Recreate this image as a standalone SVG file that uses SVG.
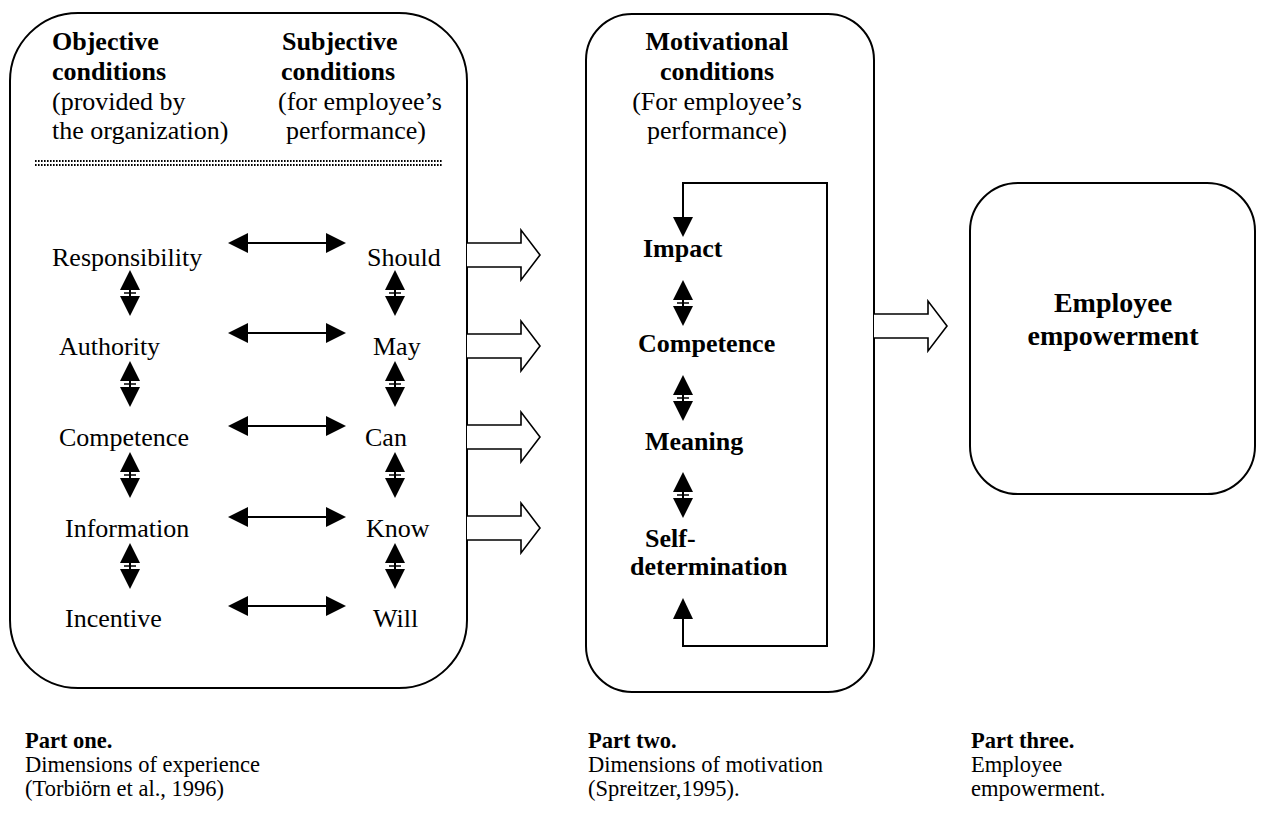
<svg xmlns="http://www.w3.org/2000/svg" xmlns:xlink="http://www.w3.org/1999/xlink" width="1261" height="821" viewBox="0 0 1261 821">
<style>
.t{font-family:"Liberation Serif","Times New Roman",serif;font-size:26px;fill:#000}
.b{font-weight:bold}
.m{text-anchor:middle}
.f{font-family:"Liberation Serif","Times New Roman",serif;font-size:22.5px;fill:#000}
.box{fill:#fff;stroke:#000;stroke-width:2}
.ln{fill:none;stroke:#000;stroke-width:2}
.hol{fill:#fff;stroke:#000;stroke-width:1.6;stroke-linejoin:miter}
.dots{stroke:#000;stroke-width:2;stroke-dasharray:1.6 1.4}
</style>
<defs>
<g id="hdbl">
<line x1="18" y1="0" x2="100" y2="0" stroke="#000" stroke-width="2"/>
<polygon points="0,0 20,-10 20,10" fill="#000"/>
<polygon points="118,0 98,-10 98,10" fill="#000"/>
</g>
<g id="vdbl">
<line x1="0" y1="18" x2="0" y2="28" stroke="#000" stroke-width="2"/>
<polygon points="0,0 -10,20 10,20" fill="#000"/>
<line x1="-6" y1="23" x2="6" y2="23" stroke="#000" stroke-width="1.5"/>
<polygon points="-10,26 10,26 0,46" fill="#000"/>
</g>
<path id="hollow" d="M0,-12 H54 V-25 L73,0 L54,25 V12 H0"/>
</defs>

<g id="part-one">
<rect class="box" x="10" y="13" width="457" height="675" rx="68" ry="68"/>
<text class="t b" x="52" y="50">Objective</text>
<text class="t b" x="52" y="80">conditions</text>
<text class="t" x="52" y="110">(provided by</text>
<text class="t" x="52" y="139">the organization)</text>
<text class="t b" x="282" y="50">Subjective</text>
<text class="t b" x="281" y="80">conditions</text>
<text class="t" x="278" y="110">(for employee’s</text>
<text class="t" x="286" y="139">performance)</text>
<line class="dots" x1="35" y1="161" x2="442" y2="161"/>
<line class="dots" x1="35" y1="165" x2="442" y2="165"/>
<text class="t" x="52" y="266">Responsibility</text>
<text class="t" x="59" y="355">Authority</text>
<text class="t" x="59" y="446">Competence</text>
<text class="t" x="65" y="537">Information</text>
<text class="t" x="65" y="627">Incentive</text>
<text class="t" x="367" y="266">Should</text>
<text class="t" x="373" y="355">May</text>
<text class="t" x="365" y="446">Can</text>
<text class="t" x="366" y="537">Know</text>
<text class="t" x="373" y="627">Will</text>
</g>

<g id="part-two">
<rect class="box" x="586" y="14" width="288" height="678" rx="46" ry="46"/>
<text class="t b m" x="717" y="50">Motivational</text>
<text class="t b m" x="717" y="80">conditions</text>
<text class="t m" x="717" y="110">(For employee’s</text>
<text class="t m" x="717" y="139">performance)</text>
<text class="t b" x="643" y="257">Impact</text>
<text class="t b" x="638" y="352">Competence</text>
<text class="t b" x="645" y="450">Meaning</text>
<text class="t b" x="645" y="547">Self-</text>
<text class="t b" x="630" y="575">determination</text>
</g>

<g id="part-three">
<rect class="box" x="970" y="183" width="285" height="311" rx="48" ry="48"/>
<text class="t b m" x="1113" y="312" style="font-size:28px">Employee</text>
<text class="t b m" x="1113" y="345" style="font-size:28px">empowerment</text>
</g>

<g id="connectors">
<use xlink:href="#hdbl" x="228" y="243"/>
<use xlink:href="#hdbl" x="228" y="333"/>
<use xlink:href="#hdbl" x="228" y="426"/>
<use xlink:href="#hdbl" x="228" y="517"/>
<use xlink:href="#hdbl" x="228" y="606"/>
<use xlink:href="#vdbl" x="130" y="270"/>
<use xlink:href="#vdbl" x="130" y="361"/>
<use xlink:href="#vdbl" x="130" y="452"/>
<use xlink:href="#vdbl" x="130" y="543"/>
<use xlink:href="#vdbl" x="395" y="270"/>
<use xlink:href="#vdbl" x="395" y="361"/>
<use xlink:href="#vdbl" x="395" y="452"/>
<use xlink:href="#vdbl" x="395" y="543"/>
<use xlink:href="#hollow" class="hol" x="467" y="255"/>
<use xlink:href="#hollow" class="hol" x="467" y="346"/>
<use xlink:href="#hollow" class="hol" x="467" y="437"/>
<use xlink:href="#hollow" class="hol" x="467" y="528"/>
<use xlink:href="#hollow" class="hol" x="874" y="326"/>
<path class="ln" d="M683,218 V183 H827 V646 H683 V618"/>
<polygon points="673,217 693,217 683,237" fill="#000"/>
<polygon points="673,619 693,619 683,598" fill="#000"/>
<use xlink:href="#vdbl" x="683" y="280"/>
<use xlink:href="#vdbl" x="683" y="375"/>
<use xlink:href="#vdbl" x="683" y="472"/>
</g>

<g id="captions">
<text class="f b" x="25" y="748">Part one.</text>
<text class="f" x="25" y="772">Dimensions of experience</text>
<text class="f" x="25" y="796">(Torbiörn et al., 1996)</text>
<text class="f b" x="588" y="748">Part two.</text>
<text class="f" x="588" y="772">Dimensions of motivation</text>
<text class="f" x="588" y="796">(Spreitzer,1995).</text>
<text class="f b" x="971" y="748">Part three.</text>
<text class="f" x="971" y="772">Employee</text>
<text class="f" x="971" y="796">empowerment.</text>
</g>
</svg>
